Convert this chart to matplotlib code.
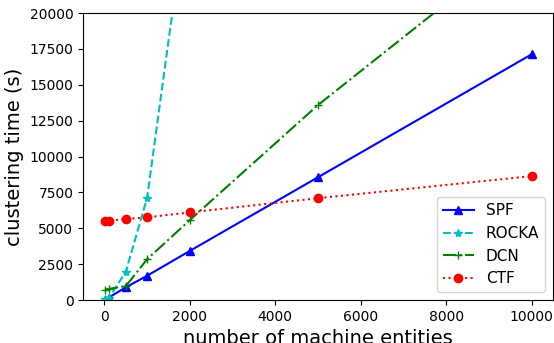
import matplotlib
matplotlib.use("Agg")
from matplotlib import pyplot as plt

x_spf = [10, 100, 500, 1000, 2000, 5000, 10000]
spf = [20, 180, 890, 1700, 3430, 8560, 17120]

x_rocka = [10, 100, 500, 1000, 2000]
rocka = [80, 120, 1980, 7140, 29000]

x_dcn = [10, 100, 500, 1000, 2000, 5000, 10000]
dcn = [720, 780, 980, 2850, 5580, 13590, 25400]

x_ctf = [10, 100, 500, 1000, 2000, 5000, 10000]
ctf = [5520, 5530, 5650, 5770, 6110, 7100, 8640]

fig = plt.figure(figsize=(5.54, 3.43), dpi=100)
ax = fig.add_axes([0.150, 0.125, 0.848, 0.837])

ax.plot(x_spf, spf, 'b-^', label='SPF')
ax.plot(x_rocka, rocka, 'c--*', label='ROCKA')
ax.plot(x_dcn, dcn, 'g-.+', label='DCN')
ax.plot(x_ctf, ctf, 'r:o', label='CTF')

ax.set_xlim(-500, 10500)
ax.set_ylim(0, 20000)
ax.set_xticks([0, 2000, 4000, 6000, 8000, 10000])
ax.set_yticks(range(0, 20001, 2500))
ax.tick_params(labelsize=10)
ax.set_xlabel('number of machine entities', fontsize=14)
ax.set_ylabel('clustering time (s)', fontsize=14)
ax.legend(loc='lower right', fontsize=11)

fig.savefig('out.png', dpi=100)
